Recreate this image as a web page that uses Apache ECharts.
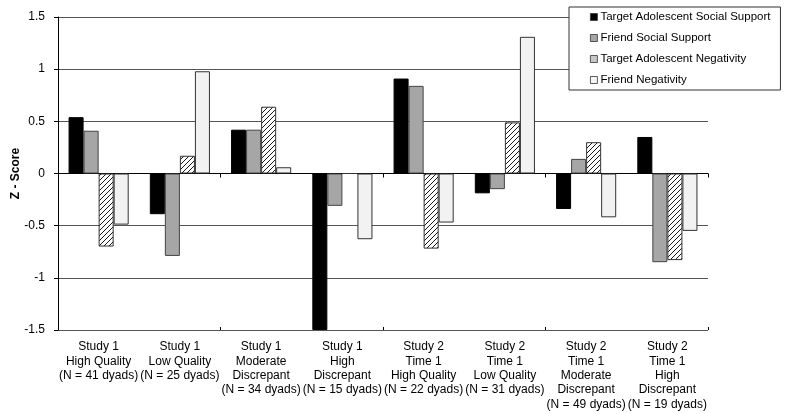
<!DOCTYPE html>
<html>
<head>
<meta charset="utf-8">
<script src="https://cdn.jsdelivr.net/npm/echarts@6/dist/echarts.min.js"></script>
<style>
html,body{margin:0;padding:0;background:#fff;}
#chart{width:800px;height:414px;}
</style>
</head>
<body>
<div id="chart"></div>
<script>
const categories = [
  "Study 1\nHigh Quality\n(N = 41 dyads)",
  "Study 1\nLow Quality\n(N = 25 dyads)",
  "Study 1\nModerate\nDiscrepant\n(N = 34 dyads)",
  "Study 1\nHigh\nDiscrepant\n(N = 15 dyads)",
  "Study 2\nTime 1\nHigh Quality\n(N = 22 dyads)",
  "Study 2\nTime 1\nLow Quality\n(N = 31 dyads)",
  "Study 2\nTime 1\nModerate\nDiscrepant\n(N = 49 dyads)",
  "Study 2\nTime 1\nHigh\nDiscrepant\n(N = 19 dyads)"
];
const seriesNames = [
  "Target Adolescent Social Support",
  "Friend Social Support",
  "Target Adolescent Negativity",
  "Friend Negativity"
];
const targetSocialSupport = [0.54, -0.39, 0.42, -1.5, 0.91, -0.19, -0.34, 0.35];
const friendSocialSupport = [0.41, -0.79, 0.42, -0.31, 0.84, -0.15, 0.14, -0.85];
const targetNegativity = [-0.70, 0.17, 0.64, 0.0, -0.72, 0.49, 0.30, -0.83];
const friendNegativity = [-0.49, 0.98, 0.06, -0.63, -0.47, 1.31, -0.42, -0.55];
const yTicks = [-1.5, -1, -0.5, 0, 0.5, 1, 1.5];

const FONT = "'Liberation Sans', Arial, Helvetica, sans-serif";

function hatchCanvas() {
  const s = 5;
  const c = document.createElement('canvas');
  c.width = s; c.height = s;
  const g = c.getContext('2d');
  g.fillStyle = '#ffffff';
  g.fillRect(0, 0, s, s);
  g.strokeStyle = '#000000';
  g.lineWidth = 0.9;
  g.beginPath();
  g.moveTo(0, s); g.lineTo(s, 0);
  g.moveTo(-1, 1); g.lineTo(1, -1);
  g.moveTo(s - 1, s + 1); g.lineTo(s + 1, s - 1);
  g.stroke();
  return c;
}

const chart = echarts.init(document.getElementById('chart'), null, {renderer: 'canvas'});

const styles = [
  {color: '#000000', borderColor: '#000000', borderWidth: 1},
  {color: '#a6a6a6', borderColor: '#444444', borderWidth: 1},
  {color: {image: hatchCanvas(), repeat: 'repeat'}, borderColor: '#333333', borderWidth: 1},
  {color: '#f2f2f2', borderColor: '#333333', borderWidth: 1}
];
const legendColors = ['#000000', '#a6a6a6', '#c8c8c8', '#f6f6f6'];
const dataSets = [targetSocialSupport, friendSocialSupport, targetNegativity, friendNegativity];

const option = {
  animation: false,
  backgroundColor: '#ffffff',
  textStyle: {fontFamily: FONT, color: '#000'},
  grid: {left: 58, right: 92, top: 17, bottom: 84, containLabel: false, outerBoundsMode: 'none'},
  legend: {
    orient: 'vertical',
    left: 569,
    top: 7,
    padding: [4, 10, 4, 21],
    itemGap: 9,
    itemWidth: 7,
    itemHeight: 7,
    backgroundColor: '#ffffff',
    borderColor: '#333333',
    borderWidth: 1,
    borderRadius: 0,
    textStyle: {fontFamily: FONT, fontSize: 11.5, color: '#000', padding: [0, 0, 0, -2], lineHeight: 12},
    data: seriesNames.map((n, i) => ({
      name: n,
      icon: 'rect',
      itemStyle: {color: legendColors[i], borderColor: '#333', borderWidth: 0.8}
    }))
  },
  xAxis: [
    {
      type: 'category',
      data: categories,
      axisLine: {onZero: true, lineStyle: {color: '#000', width: 1}},
      axisTick: {show: true, length: 4, inside: false, lineStyle: {color: '#000'}},
      axisLabel: {show: false},
      splitLine: {show: false}
    },
    {
      type: 'category',
      data: categories,
      position: 'bottom',
      axisLine: {show: false, onZero: false},
      axisTick: {show: false},
      axisLabel: {
        show: true, interval: 0, margin: 10,
        fontFamily: FONT, fontSize: 12, lineHeight: 14.3, color: '#000',
        verticalAlign: 'top', align: 'center'
      }
    },
    {
      type: 'category',
      data: categories,
      position: 'bottom',
      axisLine: {show: false, onZero: true},
      axisTick: {show: true, length: 3, inside: true, lineStyle: {color: '#000'}},
      axisLabel: {show: false}
    }
  ],
  yAxis: {
    type: 'value',
    min: -1.5, max: 1.5, interval: 0.5,
    name: 'Z - Score',
    nameLocation: 'middle',
    nameGap: 36,
    nameMoveOverlap: false,
    nameRotate: 90,
    nameTextStyle: {fontFamily: FONT, fontSize: 12, fontWeight: 'bold', color: '#000'},
    axisLine: {show: true, lineStyle: {color: '#000', width: 1}},
    axisTick: {show: true, length: 4, inside: false, lineStyle: {color: '#000'}},
    axisLabel: {
      fontFamily: FONT, fontSize: 12, color: '#000', margin: 13,
      formatter: v => {
        const t = yTicks.find(x => Math.abs(x - v) < 1e-9);
        return t === undefined ? '' : String(t);
      }
    },
    splitLine: {show: true, lineStyle: {color: '#555555', width: 1}}
  },
  series: seriesNames.map((n, i) => ({
    name: n,
    type: 'bar',
    xAxisIndex: 0,
    data: dataSets[i],
    barGap: '0%',
    barCategoryGap: '26%',
    itemStyle: styles[i],
    clip: true,
    emphasis: {disabled: true}
  }))
};
chart.setOption(option);
</script>
</body>
</html>
